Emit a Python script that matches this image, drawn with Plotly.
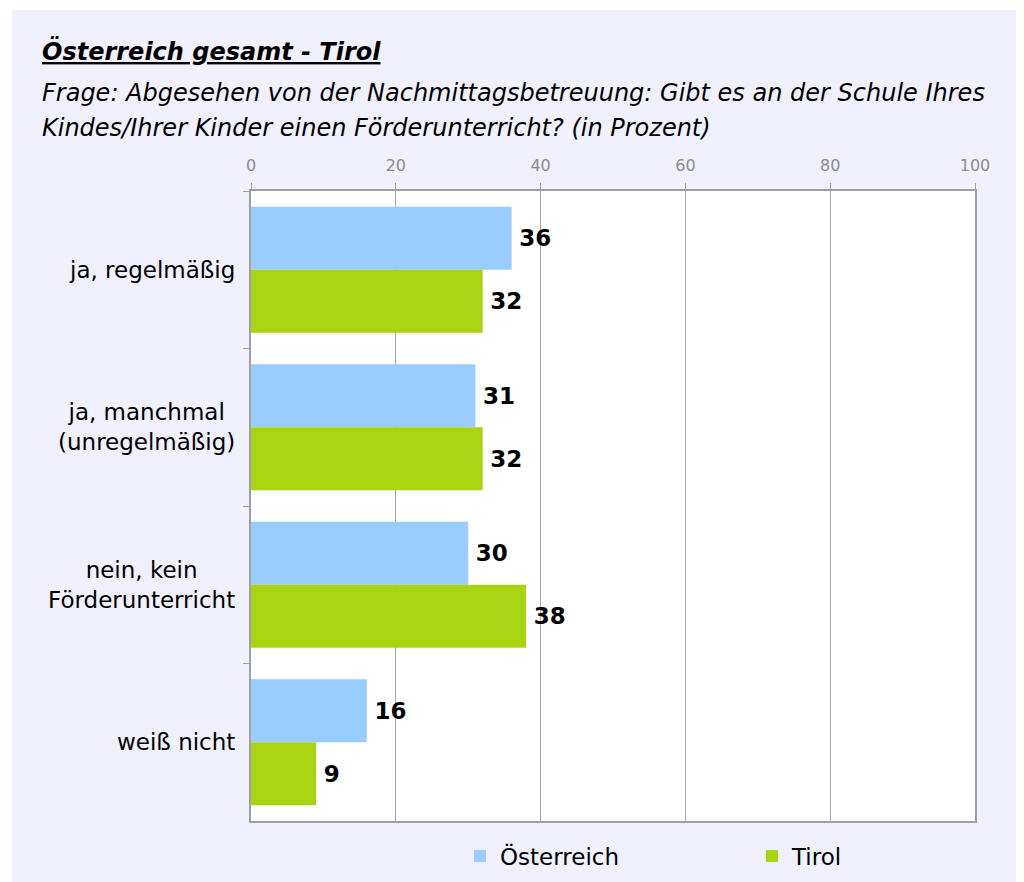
import plotly.graph_objects as go

categories = ["ja, regelmäßig", "ja, manchmal<br>(unregelmäßig)", "nein, kein<br>Förderunterricht", "weiß nicht"]
oesterreich = [36, 31, 30, 16]
tirol = [32, 32, 38, 9]
x_ticks = [0, 20, 40, 60, 80, 100]

OFF = 8  # page body margin
W, H = 1024 - OFF, 882 - OFF
L, R, T, B = 251 - OFF, 975 - OFF, 191 - OFF, 821 - OFF
pw, ph = R - L, B - T

def px(x):  # reference page x -> paper
    return (x - OFF - L) / pw

def py(y):  # reference page y -> paper
    return (B - (y - OFF)) / ph

FONT = "DejaVu Sans"
fig = go.Figure()
label_font = dict(family=FONT, size=23, color="black")
fig.add_trace(go.Bar(
    name="Österreich", y=categories, x=oesterreich, orientation="h",
    marker=dict(color="#99CCFF", line=dict(width=0)),
    text=oesterreich, texttemplate="<b>\u2009%{x}</b>", textposition="outside",
    textfont=label_font, cliponaxis=False,
))
fig.add_trace(go.Bar(
    name="Tirol", y=categories, x=tirol, orientation="h",
    marker=dict(color="#A8D414", line=dict(width=0)),
    text=tirol, texttemplate="<b>\u2009%{x}</b>", textposition="outside",
    textfont=label_font, cliponaxis=False,
))

shapes = [
    dict(type="rect", xref="paper", yref="paper", x0=px(12), x1=px(1018), y0=py(885), y1=py(10),
         fillcolor="#F1F0FE", line=dict(width=0), layer="below"),
    dict(type="rect", xref="paper", yref="paper", x0=0, x1=1, y0=0, y1=1,
         fillcolor="white", line=dict(width=0), layer="below"),
]

annotations = [
    dict(text="<b><i><u>Österreich gesamt - Tirol</u></i></b>", xref="paper", yref="paper",
         x=px(40), y=py(51), xanchor="left", yanchor="middle", showarrow=False,
         font=dict(family=FONT, size=24, color="black")),
    dict(text="<i>Frage: Abgesehen von der Nachmittagsbetreuung: Gibt es an der Schule Ihres</i>",
         xref="paper", yref="paper", x=px(40), y=py(93), xanchor="left", yanchor="middle",
         showarrow=False, font=dict(family=FONT, size=24, color="black")),
    dict(text="<i>Kindes/Ihrer Kinder einen Förderunterricht? (in Prozent)</i>",
         xref="paper", yref="paper", x=px(40), y=py(128), xanchor="left", yanchor="middle",
         showarrow=False, font=dict(family=FONT, size=24, color="black")),
]
for c in categories:
    annotations.append(dict(text=c, xref="paper", yref="y", x=px(237), y=c,
                            xanchor="right", yanchor="middle", align="center", showarrow=False,
                            font=dict(family=FONT, size=23, color="black")))

fig.update_layout(
    width=W, height=H,
    margin=dict(l=L, r=W - R, t=T, b=H - B, autoexpand=False),
    paper_bgcolor="white", plot_bgcolor="rgba(0,0,0,0)",
    barmode="group", bargap=0.2, bargroupgap=0,
    shapes=shapes, annotations=annotations,
    showlegend=True,
    legend=dict(orientation="h", x=px(460), xanchor="left", y=py(856), yanchor="middle",
                entrywidth=247, entrywidthmode="pixels",
                font=dict(family=FONT, size=23, color="black"),
                bgcolor="rgba(0,0,0,0)"),
    xaxis=dict(side="top", range=[0, 100], tickvals=x_ticks, showgrid=True, gridcolor="#AAAAAA",
               gridwidth=1, zeroline=False, showline=True, linecolor="#A0A0A0", linewidth=2, mirror=True,
               ticks="outside", ticklen=6, tickcolor="#A0A0A0", tickwidth=1,
               tickfont=dict(family=FONT, size=16, color="#8C8C8C"), ticklabelstandoff=6),
    yaxis=dict(autorange="reversed", showticklabels=False, showline=True, linecolor="#A0A0A0",
               linewidth=2, mirror=True, ticks="outside", ticklen=6, tickcolor="#A0A0A0",
               tickson="boundaries", showgrid=False, zeroline=False),
)

fig.write_html("out.html")
